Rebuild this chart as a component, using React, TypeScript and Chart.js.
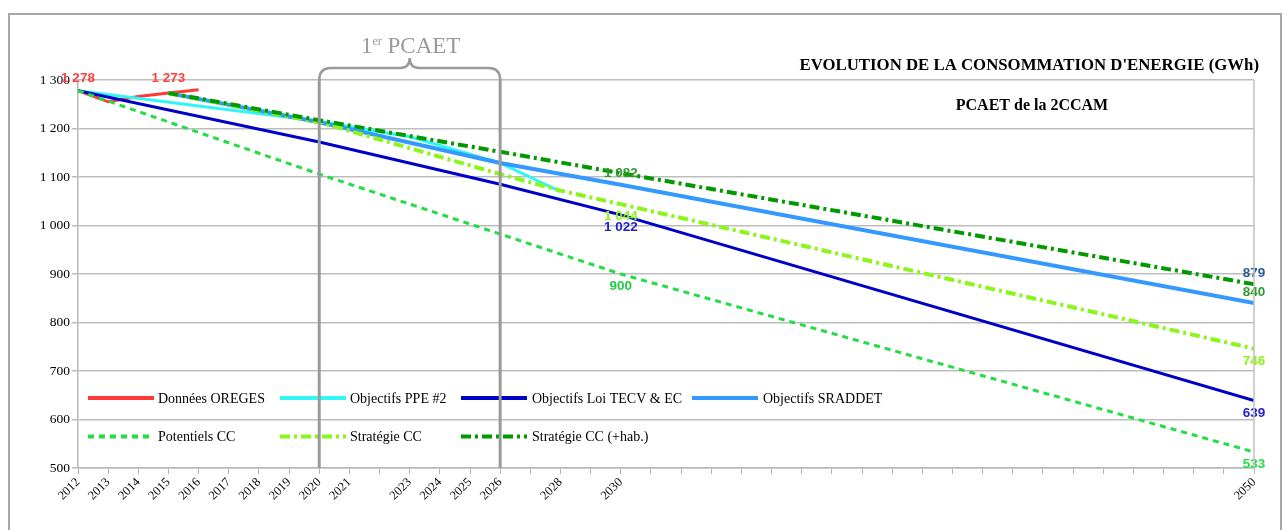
import React, { useEffect, useRef } from 'react';
import { Chart, registerables } from 'chart.js';

Chart.register(...registerables);

// ---- Data -----------------------------------------------------------------
// Category slots of the horizontal axis (blank = unlabelled slot)
const categories: string[] = [
  '2012', '2013', '2014', '2015', '2016', '2017', '2018', '2019', '2020', '2021',
  '', '2023', '2024', '2025', '2026', '', '2028', '', '2030',
  '', '', '', '', '', '', '', '', '', '', '', '', '', '', '', '', '', '', '', '',
  '2050',
];

const yTicks = [500, 600, 700, 800, 900, 1000, 1100, 1200, 1300];

const seriesNames = [
  'Données OREGES',
  'Objectifs PPE #2',
  'Objectifs Loi TECV & EC',
  'Objectifs SRADDET',
  'Potentiels CC',
  'Stratégie CC',
  'Stratégie CC (+hab.)',
];

const oregesSlots = [0, 1, 2, 3, 4];
const oregesValues = [1278, 1255, 1266, 1273, 1280];

const ppeSlots = [0, 8, 11, 14, 16];
const ppeValues = [1278, 1215, 1183, 1129, 1070];

const tecvSlots = [0, 8, 14, 18, 39];
const tecvValues = [1278, 1172, 1085, 1022, 639];

const sraddetSlots = [3, 8, 14, 18, 39];
const sraddetValues = [1273, 1213, 1129, 1084, 840];

const potentielsSlots = [0, 8, 18, 39];
const potentielsValues = [1278, 1106, 900, 533];

const strategieSlots = [3, 8, 14, 16, 18, 39];
const strategieValues = [1273, 1213, 1106, 1072, 1044, 746];

const strategieHabSlots = [3, 8, 14, 18, 39];
const strategieHabValues = [1273, 1217, 1152, 1108, 879];

// value labels shown on the chart
const labelSlots = [0, 3, 18, 18, 18, 18, 39, 39, 39, 39, 39];
const labelValues = [1278, 1273, 1082, 1044, 1022, 900, 879, 840, 746, 639, 533];

// PCAET period (slot indexes)
const pcaetStartSlot = 8;
const pcaetEndSlot = 14;

// ---- Styles ---------------------------------------------------------------
const seriesStyles = [
  { color: '#ff3838', width: 3, dash: [] as number[] },
  { color: '#33f5f5', width: 3, dash: [] as number[] },
  { color: '#0000c8', width: 3, dash: [] as number[] },
  { color: '#3399ff', width: 4, dash: [] as number[] },
  { color: '#22dd44', width: 3, dash: [6, 5] },
  { color: '#8cf51a', width: 4, dash: [10, 4, 3, 4] },
  { color: '#009900', width: 4, dash: [10, 4, 3, 4] },
];

const labelStyles = [
  { color: '#ff4040', dy: -12 },
  { color: '#ff4040', dy: -15 },
  { color: '#2e9a2e', dy: -12 },
  { color: '#8cf51a', dy: 12 },
  { color: '#2222cc', dy: 12 },
  { color: '#22cc44', dy: 12 },
  { color: '#265b94', dy: -11 },
  { color: '#2e9a2e', dy: -11 },
  { color: '#8cf51a', dy: 13 },
  { color: '#2222cc', dy: 13 },
  { color: '#22dd44', dy: 12 },
];

const legendLayout = [
  { sx: 88, tx: 158, row: 0 },
  { sx: 280, tx: 350, row: 0 },
  { sx: 461, tx: 532, row: 0 },
  { sx: 692, tx: 763, row: 0 },
  { sx: 88, tx: 158, row: 1 },
  { sx: 280, tx: 350, row: 1 },
  { sx: 461, tx: 532, row: 1 },
];
const legendRowY = [398, 436.5];

const SERIF = '"Liberation Serif", "Times New Roman", serif';
const SANS = '"Liberation Sans", Arial, sans-serif';

const fmt = (v: number) => String(v).replace(/\B(?=(\d{3})+(?!\d))/g, ' ');

const toPoints = (slots: number[], values: number[]) =>
  slots.map((s, i) => ({ x: s, y: values[i] }));

const decorPlugin = {
  id: 'decor',
  beforeDraw(chart: any) {
    const ctx = chart.ctx;
    ctx.save();
    ctx.fillStyle = '#ffffff';
    ctx.fillRect(0, 0, chart.width, chart.height);
    ctx.strokeStyle = '#a6a6a6';
    ctx.lineWidth = 2;
    ctx.beginPath();
    ctx.moveTo(9, chart.height);
    ctx.lineTo(9, 14);
    ctx.lineTo(1281, 14);
    ctx.lineTo(1281, chart.height);
    ctx.stroke();
    ctx.restore();
  },
  afterDatasetsDraw(chart: any) {
    const ctx = chart.ctx;
    const xs = chart.scales.x;
    const ys = chart.scales.y;
    ctx.save();
    // value labels
    ctx.font = `bold 13.5px ${SANS}`;
    ctx.textAlign = 'center';
    ctx.textBaseline = 'middle';
    labelSlots.forEach((s, i) => {
      ctx.fillStyle = labelStyles[i].color;
      ctx.fillText(
        fmt(labelValues[i]),
        xs.getPixelForValue(s),
        ys.getPixelForValue(labelValues[i]) + labelStyles[i].dy
      );
    });
    // legend
    ctx.font = `14px ${SERIF}`;
    ctx.textAlign = 'left';
    seriesNames.forEach((name, i) => {
      const L = legendLayout[i];
      const st = seriesStyles[i];
      const yy = legendRowY[L.row];
      ctx.strokeStyle = st.color;
      ctx.lineWidth = 4;
      ctx.lineCap = 'butt';
      ctx.setLineDash(st.dash);
      ctx.beginPath();
      ctx.moveTo(L.sx, yy);
      ctx.lineTo(L.sx + 66, yy);
      ctx.stroke();
      ctx.setLineDash([]);
      ctx.fillStyle = '#000000';
      ctx.fillText(name, L.tx, yy + 1);
    });
    ctx.restore();
  },
  afterDraw(chart: any) {
    const ctx = chart.ctx;
    const area = chart.chartArea;
    const xs = chart.scales.x;
    ctx.save();
    // right border of plot
    ctx.strokeStyle = '#c0c0c0';
    ctx.lineWidth = 1.5;
    ctx.beginPath();
    ctx.moveTo(area.right, area.top);
    ctx.lineTo(area.right, area.bottom);
    ctx.stroke();

    // titles
    ctx.fillStyle = '#000000';
    ctx.font = `bold 16.8px ${SERIF}`;
    ctx.textAlign = 'right';
    ctx.textBaseline = 'alphabetic';
    ctx.fillText("EVOLUTION DE LA CONSOMMATION D'ENERGIE (GWh)", 1259, 70);
    ctx.font = `bold 16px ${SERIF}`;
    ctx.textAlign = 'center';
    ctx.fillText('PCAET de la 2CCAM', 1032, 110);

    // PCAET period
    const x1 = xs.getPixelForValue(pcaetStartSlot);
    const x2 = xs.getPixelForValue(pcaetEndSlot);
    const xm = (x1 + x2) / 2;
    ctx.strokeStyle = '#9a9a9a';
    ctx.fillStyle = '#9a9a9a';
    ctx.lineWidth = 2.5;
    ctx.beginPath();
    ctx.moveTo(x1, 80);
    ctx.quadraticCurveTo(x1, 68, x1 + 12, 68);
    ctx.lineTo(xm - 10, 68);
    ctx.quadraticCurveTo(xm, 68, xm, 58);
    ctx.quadraticCurveTo(xm, 68, xm + 10, 68);
    ctx.lineTo(x2 - 12, 68);
    ctx.quadraticCurveTo(x2, 68, x2, 80);
    ctx.stroke();

    ctx.lineWidth = 3;
    ctx.beginPath();
    ctx.moveTo(x1, 79);
    ctx.lineTo(x1, area.bottom);
    ctx.moveTo(x2, 79);
    ctx.lineTo(x2, area.bottom);
    ctx.stroke();

    // "1er PCAET"
    ctx.textAlign = 'left';
    ctx.font = `23px ${SERIF}`;
    const w1 = ctx.measureText('1').width;
    const w3 = ctx.measureText(' PCAET').width;
    ctx.font = `12px ${SERIF}`;
    const w2 = ctx.measureText('er').width;
    let tx = xm + 1 - (w1 + w2 + w3) / 2;
    ctx.font = `23px ${SERIF}`;
    ctx.fillText('1', tx, 53);
    tx += w1;
    ctx.font = `12px ${SERIF}`;
    ctx.fillText('er', tx, 45);
    tx += w2;
    ctx.font = `23px ${SERIF}`;
    ctx.fillText(' PCAET', tx, 53);
    ctx.restore();
  },
};

export default function App() {
  const ref = useRef<HTMLCanvasElement | null>(null);

  useEffect(() => {
    document.body.style.margin = '0';
    const canvas = ref.current;
    if (!canvas) return;

    const seriesData = [
      toPoints(oregesSlots, oregesValues),
      toPoints(ppeSlots, ppeValues),
      toPoints(tecvSlots, tecvValues),
      toPoints(sraddetSlots, sraddetValues),
      toPoints(potentielsSlots, potentielsValues),
      toPoints(strategieSlots, strategieValues),
      toPoints(strategieHabSlots, strategieHabValues),
    ];

    const datasets = seriesNames.map((name, i) => ({
      label: name,
      data: seriesData[i],
      borderColor: seriesStyles[i].color,
      backgroundColor: seriesStyles[i].color,
      borderWidth: seriesStyles[i].width,
      borderDash: seriesStyles[i].dash,
      borderCapStyle: 'butt' as const,
      pointRadius: 0,
      pointHoverRadius: 0,
      tension: 0,
      fill: false,
      order: seriesNames.length - i,
    }));

    const chart = new Chart(canvas, {
      type: 'line',
      data: { datasets },
      plugins: [decorPlugin],
      options: {
        responsive: false,
        devicePixelRatio: 1,
        animation: false,
        events: [],
        layout: { padding: { left: 0, top: 80, right: 30, bottom: 0 } },
        plugins: {
          legend: { display: false },
          tooltip: { enabled: false },
          title: { display: false },
        },
        scales: {
          x: {
            type: 'linear',
            min: 0,
            max: categories.length - 1,
            afterFit: (scale: any) => {
              scale.height = 62;
            },
            afterBuildTicks: (scale: any) => {
              scale.ticks = categories.map((_, i) => ({ value: i }));
            },
            ticks: {
              autoSkip: false,
              maxRotation: 45,
              minRotation: 45,
              padding: 1,
              color: '#000000',
              font: { family: SERIF, size: 12.5 },
              callback: (v: any) => categories[Math.round(Number(v))] ?? '',
            },
            grid: {
              display: true,
              drawOnChartArea: false,
              drawTicks: true,
              tickLength: 6,
              color: '#b3b3b3',
              lineWidth: 1,
            },
            border: { display: true, color: '#b8b8b8', width: 1.5 },
          },
          y: {
            type: 'linear',
            min: yTicks[0],
            max: yTicks[yTicks.length - 1],
            afterFit: (scale: any) => {
              scale.width = 78;
            },
            afterBuildTicks: (scale: any) => {
              scale.ticks = yTicks.map((v) => ({ value: v }));
            },
            ticks: {
              padding: 2,
              color: '#000000',
              font: { family: SERIF, size: 13.5 },
              callback: (v: any) => fmt(Number(v)),
            },
            grid: {
              color: '#bdbdbd',
              lineWidth: 1.5,
              tickLength: 6,
              drawTicks: true,
            },
            border: { display: true, color: '#b8b8b8', width: 1.5 },
          },
        },
      },
    });

    return () => chart.destroy();
  }, []);

  return (
    <div style={{ width: 1284, height: 530, background: '#ffffff' }}>
      <canvas ref={ref} width={1284} height={530} style={{ display: 'block' }} />
    </div>
  );
}
